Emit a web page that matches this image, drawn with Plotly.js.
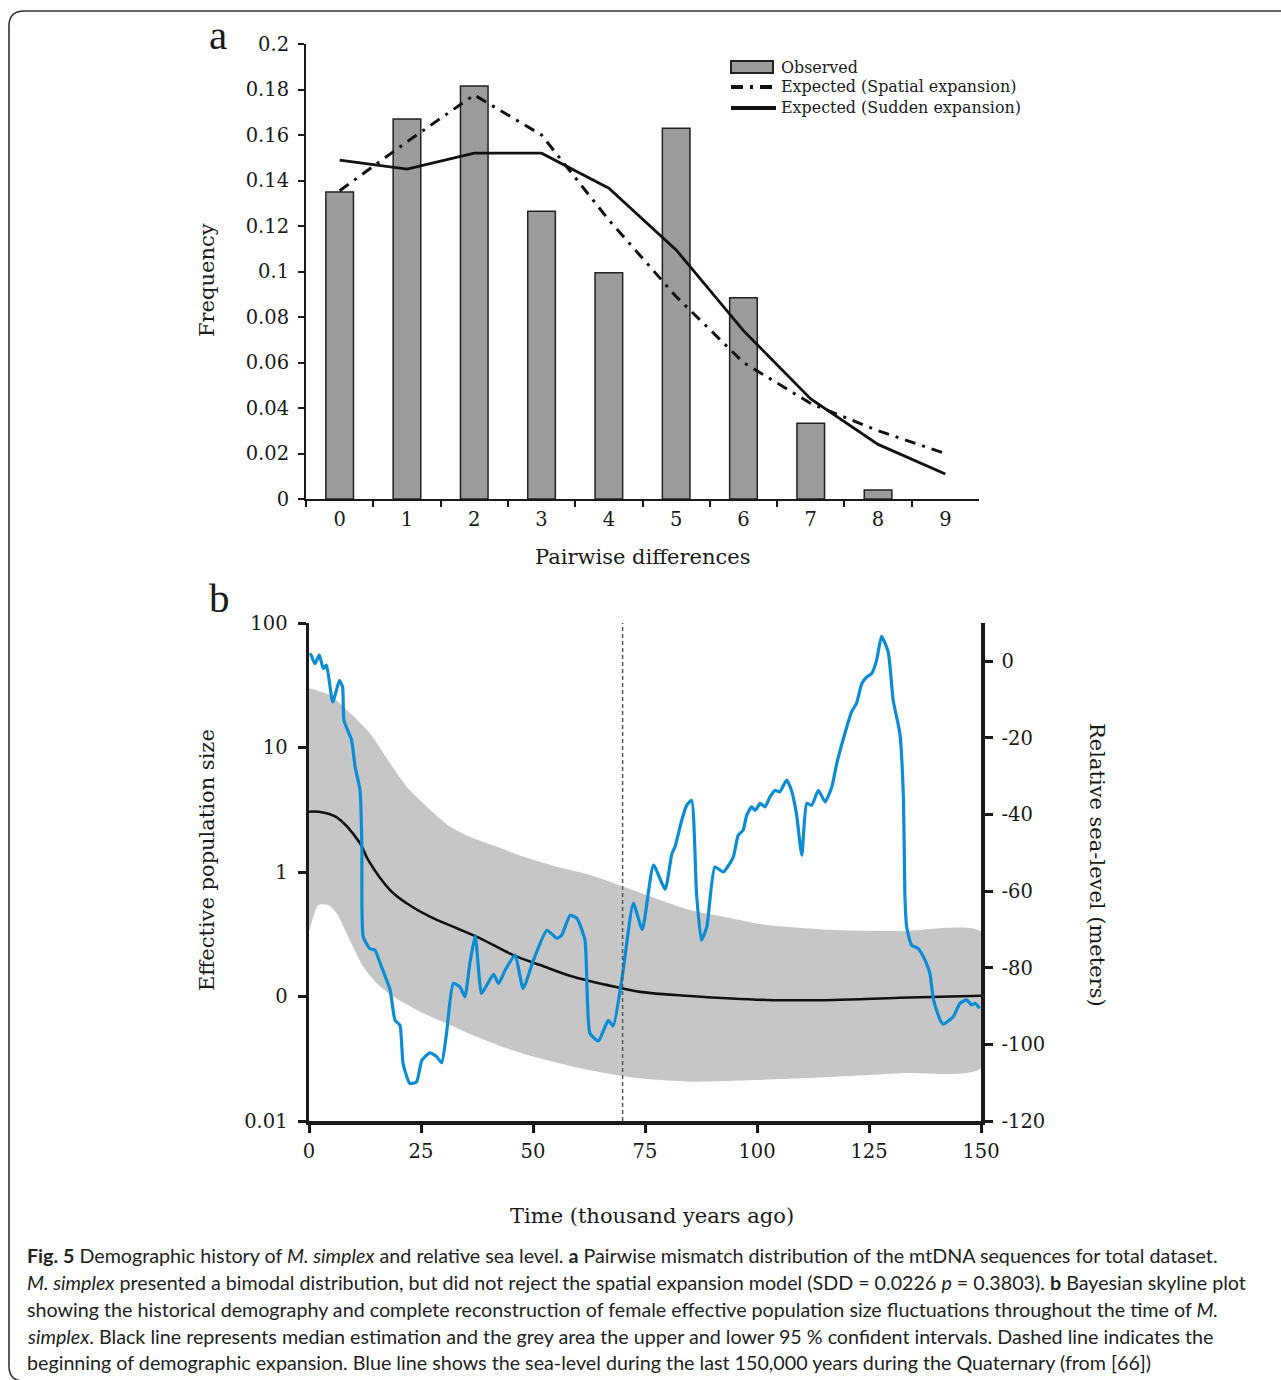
<!DOCTYPE html>
<html><head><meta charset="utf-8">
<script src="https://cdn.plot.ly/plotly-3.0.1.min.js"></script>
<style>html,body{margin:0;padding:0;background:#fff}#chart{width:1281px;height:1380px}</style>
</head><body><div id="chart"></div>
<script>
// ---------- Panel a data ----------
const pairwiseCats = ["0","1","2","3","4","5","6","7","8","9"];
const observedFreq = [0.135,0.167,0.1815,0.1265,0.0995,0.163,0.0885,0.0333,0.004,0];
const spatialExpected = [0.1355,0.157,0.1776,0.160,0.1226,0.089,0.060,0.042,0.030,0.020];
const suddenExpected = [0.149,0.145,0.152,0.152,0.1366,0.1095,0.074,0.044,0.024,0.011];
const freqTickVals = [0,0.02,0.04,0.06,0.08,0.1,0.12,0.14,0.16,0.18,0.2];
const freqTickText = ["0","0.02","0.04","0.06","0.08","0.1","0.12","0.14","0.16","0.18","0.2"];

// ---------- Panel b data ----------
const upperTime = [0,4.7,9.2,13.6,18.1,21.8,26.3,31.5,35.9,41.9,47.8,55.3,62.7,70.2,85.0,92.5,102.2,117,132,150];
const upperNe = [29.9,26.4,18.8,13.0,7.46,4.84,3.35,2.31,1.92,1.60,1.33,1.10,0.946,0.762,0.495,0.438,0.375,0.342,0.335,0.332];
const lowerTime = [0,2.1,4.3,6.2,8.4,12.1,15.1,18.8,25.5,31.5,37.4,44.1,50.1,59,66.4,73.9,85,109.6,131.9,150];
const lowerNe = [0.332,0.543,0.543,0.466,0.321,0.174,0.128,0.100,0.0733,0.0590,0.0475,0.0384,0.0329,0.0273,0.0242,0.0220,0.0207,0.0220,0.0242,0.0265];
const medianTime = [0,2.1,6.2,11.4,13.2,18.1,21.8,27,33,38.2,45.6,51.6,59,66.4,73.9,85,102.2,117,131.9,150];
const medianNe = [3.05,3.05,2.75,1.70,1.25,0.716,0.561,0.438,0.353,0.293,0.215,0.179,0.144,0.124,0.109,0.101,0.0938,0.0938,0.0977,0.1014];
const seaTime = [0.2,0.4,1.3,2.3,3.2,3.9,5.3,6.8,7.5,7.8,9.5,10.3,11.4,11.8,12.1,13.6,14.7,16.2,18.1,19.2,20.3,21.0,22.5,24.0,25.2,27.0,28.5,29.6,30.7,32.2,33.7,34.8,35.9,37.1,38.5,39.7,41.2,42.3,43.8,46.0,47.8,50.1,53.1,55.3,56.4,58.3,59.8,61.6,62.7,64.6,66.8,67.9,70.0,72.4,74.4,76.9,79.5,81.0,81.7,83.2,84.3,85.4,86.5,87.6,88.8,90.6,92.5,94.7,95.8,96.9,97.7,98.8,99.6,100.7,101.8,102.9,104.0,105.1,106.6,107.7,108.8,110.0,111.1,112.2,113.7,115.2,116.7,117.8,119.6,121.1,122.2,123.4,124.5,125.6,126.7,127.8,129.3,130.4,131.9,132.7,133.0,133.4,134.5,136.0,137.5,138.6,139.4,140.9,141.6,143.8,145.3,146.8,147.9,148.7,149.7];
const seaLevel = [1.5,1.8,-0.6,1.6,-1.9,-1.0,-10.6,-5.0,-6.7,-15.4,-20.6,-27.6,-33.7,-48.4,-71.9,-75.0,-75.4,-79.8,-85.8,-93.7,-95.0,-105,-110.2,-109.8,-104.1,-102.2,-103.2,-104.8,-97.1,-84.1,-85.0,-87.6,-78.9,-71.7,-86.7,-84.5,-81.7,-84.1,-80.6,-76.7,-85.4,-78.0,-70.2,-72.3,-71.5,-66.3,-67.1,-72.8,-97.1,-99.1,-93.7,-95.2,-81.7,-63.2,-70.0,-53.2,-59.5,-50.2,-48.4,-41.5,-37.6,-36.3,-60.6,-72.8,-69.3,-53.7,-55.0,-51.1,-45.4,-44.1,-40.2,-38.0,-38.9,-37.1,-38.0,-35.4,-33.7,-34.1,-31.0,-33.7,-39.7,-50.6,-37.1,-37.6,-33.7,-36.7,-32.8,-26.7,-18.9,-13.2,-11.0,-5.8,-4.1,-3.2,0.3,6.5,2.4,-10.2,-18.9,-36.3,-60.6,-69.3,-74.1,-75.0,-78.0,-81.5,-88.4,-93.7,-94.7,-92.8,-89.3,-88.4,-89.7,-89.3,-90.6];
const expansionStart = 70;
const timeTickVals = [0,25,50,75,100,125,150];
const neTickVals = [0.01,0.1,1,10,100];
const neTickText = ["0.01","0","1","10","100"];
const seaTickVals = [-120,-100,-80,-60,-40,-20,0];
const seaTickText = ["-120","-100","-80","-60","-40","-20","0"];

// ---------- helpers ----------
const W = 1281, H = 1380;
const px = x => x / W, py = y => 1 - y / H;
const SERIF = "DejaVu Serif";
const INK = "#1a1a1a";

const traces = [
  {type:"bar", x:pairwiseCats, y:observedFreq, width:0.41, xaxis:"x", yaxis:"y",
   marker:{color:"#9b9b9b", line:{color:"#222", width:observedFreq.map(v => v > 0 ? 1.5 : 0)}},
   name:"Observed", showlegend:false},
  {type:"scatter", mode:"lines", x:pairwiseCats, y:spatialExpected, xaxis:"x", yaxis:"y",
   line:{color:"#111", width:3, dash:"11px,7px,3px,7px"}, name:"Expected (Spatial expansion)", showlegend:false},
  {type:"scatter", mode:"lines", x:pairwiseCats, y:suddenExpected, xaxis:"x", yaxis:"y",
   line:{color:"#111", width:2.8}, name:"Expected (Sudden expansion)", showlegend:false},
  {type:"scatter", mode:"lines", x:upperTime.concat(lowerTime.slice().reverse()),
   y:upperNe.concat(lowerNe.slice().reverse()), xaxis:"x2", yaxis:"y2",
   fill:"toself", fillcolor:"#c6c6c6", line:{width:0, color:"#c6c6c6", shape:"spline", smoothing:0.6},
   name:"95% HPD", showlegend:false, hoverinfo:"skip"},
  {type:"scatter", mode:"lines", x:seaTime, y:seaLevel, xaxis:"x2", yaxis:"y3",
   line:{color:"#0b8dd6", width:3.2, shape:"spline", smoothing:0.5}, name:"Sea level", showlegend:false},
  {type:"scatter", mode:"lines", x:medianTime, y:medianNe, xaxis:"x2", yaxis:"y2",
   line:{color:"#111", width:2.6, shape:"spline", smoothing:1}, name:"Median", showlegend:false}
];

const tickFont = {family:SERIF, size:19.5, color:INK};
const layout = {
  width:W, height:H, margin:{l:0,r:0,t:0,b:0}, paper_bgcolor:"#fff", plot_bgcolor:"rgba(0,0,0,0)",
  showlegend:false,
  xaxis:{domain:[px(306),px(979)], anchor:"y", type:"category", tickson:"boundaries",
    ticks:"outside", ticklen:6, tickwidth:2, tickcolor:INK, showline:true, linewidth:2, linecolor:INK,
    showgrid:false, tickfont:tickFont, ticklabelstandoff:2},
  yaxis:{domain:[py(499),py(44)], anchor:"x", range:[0,0.2], tickvals:freqTickVals, ticktext:freqTickText,
    ticks:"outside", ticklen:6, tickwidth:2, tickcolor:INK, showline:true, linewidth:2, linecolor:INK,
    showgrid:false, zeroline:false, tickfont:tickFont, ticklabelstandoff:5},
  xaxis2:{domain:[px(309),px(981)], anchor:"y2", range:[0,150], tickvals:timeTickVals,
    ticks:"outside", ticklen:8, tickwidth:3, tickcolor:INK, showline:true, linewidth:3.5, linecolor:INK,
    showgrid:false, zeroline:false, tickfont:tickFont, ticklabelstandoff:2},
  yaxis2:{domain:[py(1121),py(623)], anchor:"x2", type:"log", range:[-2,2], tickvals:neTickVals, ticktext:neTickText,
    ticks:"outside", ticklen:8, tickwidth:3, tickcolor:INK, showline:true, linewidth:3.5, linecolor:INK,
    showgrid:false, zeroline:false, tickfont:tickFont, ticklabelstandoff:6},
  yaxis3:{overlaying:"y2", anchor:"x2", side:"right", range:[-120,10], tickvals:seaTickVals, ticktext:seaTickText,
    ticks:"outside", ticklen:8, tickwidth:3, tickcolor:INK, showline:true, linewidth:3.5, linecolor:INK,
    showgrid:false, zeroline:false, tickfont:tickFont, ticklabelstandoff:5},
  shapes:[
    {type:"line", xref:"x2", yref:"paper", x0:expansionStart, x1:expansionStart, y0:py(1121), y1:py(623),
     line:{color:"#555", width:1.5, dash:"4px,3px"}, layer:"above"},
    // legend symbols
    {type:"rect", xref:"paper", yref:"paper", x0:px(731), x1:px(773), y0:py(73), y1:py(61),
     fillcolor:"#9b9b9b", line:{color:"#222", width:2}},
    {type:"line", xref:"paper", yref:"paper", x0:px(731), x1:px(776), y0:py(87), y1:py(87),
     line:{color:"#111", width:4, dash:"12px,7px,3px,7px"}},
    {type:"line", xref:"paper", yref:"paper", x0:px(731), x1:px(776), y0:py(108), y1:py(108),
     line:{color:"#111", width:4}},
    // frame
    {type:"path", xref:"paper", yref:"paper", layer:"below",
     path:`M ${px(1300)},${py(11)} L ${px(24)},${py(11)} Q ${px(9)},${py(11)} ${px(9)},${py(26)} L ${px(9)},${py(1366)} Q ${px(9)},${py(1380)} ${px(22)},${py(1381)}`,
     line:{color:"#333", width:1.6}}
  ],
  annotations:[]
};

function ann(text, x, y, opts) {
  layout.annotations.push(Object.assign({text, xref:"paper", yref:"paper", x:px(x), y:py(y),
    showarrow:false, xanchor:"center", yanchor:"middle", font:{family:SERIF, size:21, color:INK}}, opts||{}));
}
ann("a", 218, 35, {font:{family:"Liberation Serif", size:41, color:INK}});
ann("b", 219, 598, {font:{family:"Liberation Serif", size:41, color:INK}});
ann("Frequency", 207, 280, {textangle:-90});
ann("Pairwise differences", 643, 557);
ann("Effective population size", 207, 860, {textangle:-90});
ann("Time (thousand years ago)", 652, 1216);
ann("Relative sea-level (meters)", 1097, 865, {textangle:90});
const legFont = {family:SERIF, size:15.9, color:INK};
ann("Observed", 779, 67, {xanchor:"left", font:legFont});
ann("Expected (Spatial expansion)", 779, 87, {xanchor:"left", font:legFont});
ann("Expected (Sudden expansion)", 779, 108, {xanchor:"left", font:legFont});

const captionLines = [
  "<b>Fig. 5</b> Demographic history of <i>M. simplex</i> and relative sea level. <b>a</b> Pairwise mismatch distribution of the mtDNA sequences for total dataset.",
  "<i>M. simplex</i> presented a bimodal distribution, but did not reject the spatial expansion model (SDD = 0.0226 <i>p</i> = 0.3803). <b>b</b> Bayesian skyline plot",
  "showing the historical demography and complete reconstruction of female effective population size fluctuations throughout the time of <i>M.</i>",
  "<i>simplex</i>. Black line represents median estimation and the grey area the upper and lower 95 % confident intervals. Dashed line indicates the",
  "beginning of demographic expansion. Blue line shows the sea-level during the last 150,000 years during the Quaternary (from [66])"
];
const captionY = [1255,1282,1309,1336,1362];
captionLines.forEach((t,i)=>ann(t, 25, captionY[i], {xanchor:"left", font:{family:"Lato", size:19.7, color:"#222"}}));

Plotly.newPlot("chart", traces, layout, {displayModeBar:false, staticPlot:true});
</script></body></html>
